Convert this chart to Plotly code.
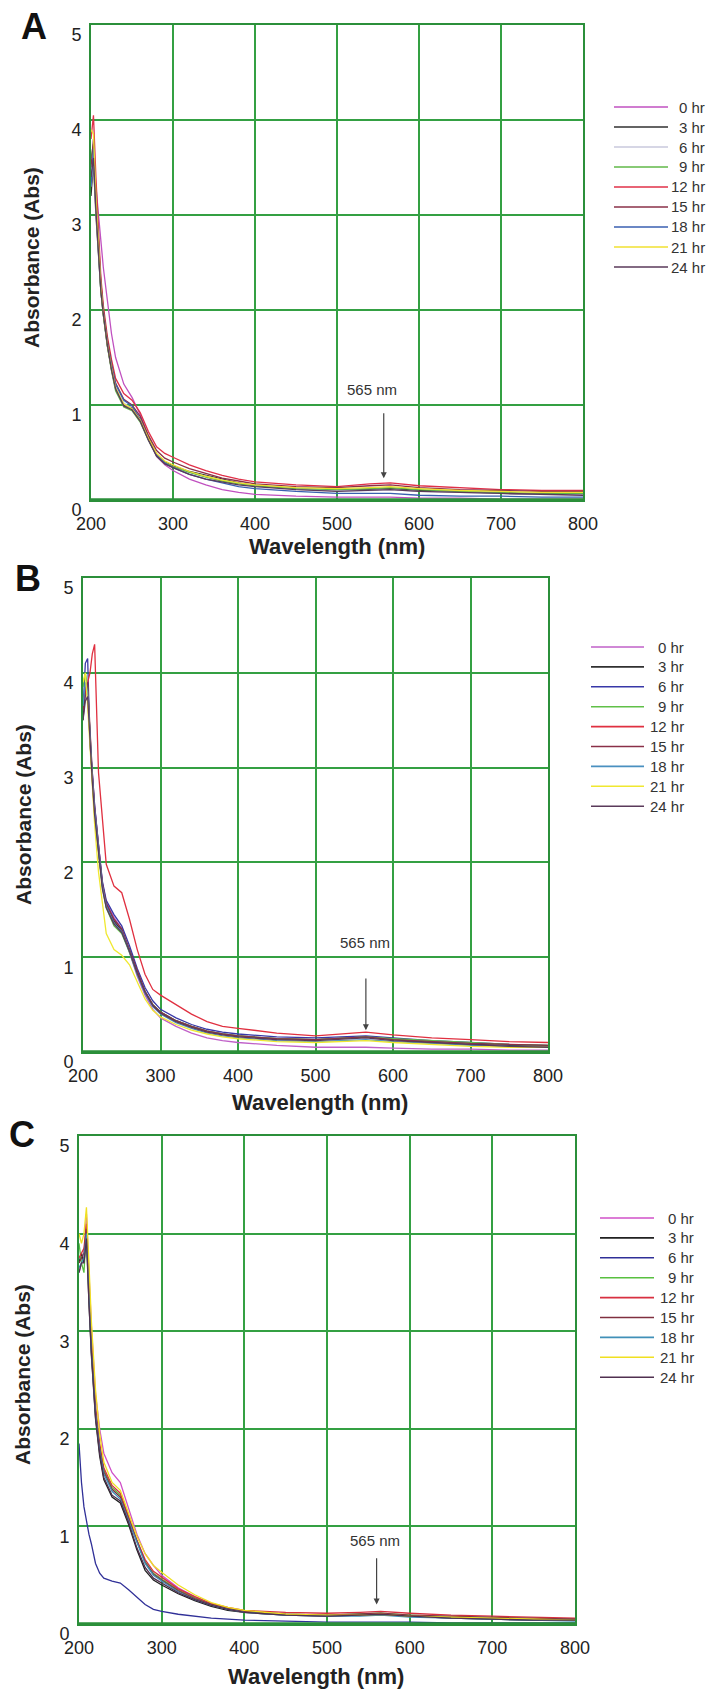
import plotly.graph_objects as go

# ---------------- data ----------------
wavelength = [200, 203, 206, 209, 212, 215, 220, 225, 230, 240, 250, 260, 270, 280, 290,
              300, 320, 340, 360, 380, 400, 450, 500, 540, 565, 600, 650, 700, 750, 800]

series_names = ["0 hr", "3 hr", "6 hr", "9 hr", "12 hr", "15 hr", "18 hr", "21 hr", "24 hr"]

a_0hr = [3.40, 3.50, 3.30, 3.00, 2.70, 2.45, 2.10, 1.75, 1.50, 1.22, 1.08, 0.90, 0.66, 0.46, 0.37, 0.31, 0.22, 0.16, 0.11, 0.08, 0.06, 0.04, 0.03, 0.03, 0.03, 0.02, 0.02, 0.01, 0.01, 0.01]
a_3hr = [3.20, 3.55, 3.00, 2.55, 2.20, 1.95, 1.62, 1.38, 1.18, 1.00, 0.97, 0.85, 0.66, 0.48, 0.40, 0.36, 0.30, 0.26, 0.22, 0.18, 0.15, 0.12, 0.10, 0.11, 0.12, 0.10, 0.09, 0.07, 0.06, 0.06]
a_6hr = [3.30, 3.60, 3.05, 2.60, 2.25, 2.00, 1.66, 1.40, 1.20, 1.02, 0.96, 0.83, 0.64, 0.47, 0.39, 0.35, 0.29, 0.25, 0.21, 0.17, 0.15, 0.12, 0.10, 0.10, 0.11, 0.09, 0.08, 0.07, 0.06, 0.06]
a_9hr = [3.60, 3.75, 3.10, 2.60, 2.20, 1.95, 1.62, 1.36, 1.15, 0.98, 0.94, 0.82, 0.63, 0.47, 0.39, 0.35, 0.29, 0.24, 0.20, 0.17, 0.15, 0.12, 0.11, 0.12, 0.13, 0.11, 0.09, 0.08, 0.07, 0.07]
a_12hr = [3.80, 4.05, 3.40, 2.80, 2.35, 2.05, 1.72, 1.48, 1.28, 1.12, 1.05, 0.92, 0.72, 0.56, 0.49, 0.45, 0.37, 0.31, 0.26, 0.22, 0.19, 0.16, 0.14, 0.17, 0.18, 0.15, 0.13, 0.11, 0.10, 0.10]
a_15hr = [3.50, 3.80, 3.20, 2.70, 2.30, 2.00, 1.68, 1.43, 1.23, 1.06, 1.00, 0.88, 0.68, 0.52, 0.44, 0.40, 0.33, 0.28, 0.23, 0.20, 0.17, 0.14, 0.13, 0.15, 0.16, 0.13, 0.11, 0.10, 0.09, 0.09]
a_18hr = [3.30, 3.70, 3.15, 2.65, 2.25, 1.98, 1.65, 1.42, 1.22, 1.05, 0.99, 0.85, 0.64, 0.47, 0.39, 0.34, 0.27, 0.22, 0.18, 0.14, 0.12, 0.09, 0.07, 0.07, 0.07, 0.05, 0.04, 0.04, 0.03, 0.03]
a_21hr = [3.90, 3.85, 3.20, 2.65, 2.25, 1.97, 1.64, 1.39, 1.18, 1.01, 0.96, 0.84, 0.65, 0.49, 0.41, 0.37, 0.30, 0.25, 0.21, 0.18, 0.16, 0.13, 0.12, 0.13, 0.14, 0.12, 0.10, 0.09, 0.08, 0.08]
a_24hr = [3.40, 3.60, 3.05, 2.60, 2.20, 1.96, 1.63, 1.37, 1.17, 0.99, 0.95, 0.83, 0.63, 0.46, 0.38, 0.34, 0.27, 0.22, 0.19, 0.16, 0.14, 0.11, 0.09, 0.10, 0.11, 0.09, 0.08, 0.07, 0.06, 0.05]

b_0hr = [3.55, 3.75, 3.80, 3.35, 2.95, 2.60, 2.15, 1.78, 1.58, 1.42, 1.30, 1.05, 0.80, 0.60, 0.45, 0.36, 0.27, 0.20, 0.15, 0.12, 0.10, 0.07, 0.05, 0.05, 0.05, 0.04, 0.03, 0.03, 0.02, 0.02]
b_3hr = [3.50, 3.80, 3.90, 3.30, 2.90, 2.55, 2.12, 1.76, 1.56, 1.38, 1.28, 1.08, 0.84, 0.64, 0.50, 0.42, 0.33, 0.27, 0.22, 0.19, 0.17, 0.14, 0.13, 0.15, 0.16, 0.13, 0.10, 0.08, 0.07, 0.06]
b_6hr = [3.60, 4.10, 4.15, 3.25, 2.95, 2.60, 2.18, 1.80, 1.60, 1.45, 1.33, 1.12, 0.88, 0.68, 0.54, 0.45, 0.36, 0.29, 0.24, 0.21, 0.19, 0.16, 0.15, 0.16, 0.17, 0.15, 0.12, 0.10, 0.08, 0.07]
b_9hr = [3.85, 4.00, 3.85, 3.30, 2.88, 2.52, 2.10, 1.74, 1.52, 1.33, 1.25, 1.05, 0.82, 0.63, 0.50, 0.42, 0.33, 0.27, 0.22, 0.19, 0.17, 0.14, 0.13, 0.15, 0.16, 0.14, 0.12, 0.10, 0.08, 0.07]
b_12hr = [3.70, 3.80, 3.90, 4.00, 4.20, 4.30, 2.95, 2.45, 1.98, 1.75, 1.68, 1.40, 1.08, 0.82, 0.66, 0.60, 0.50, 0.40, 0.32, 0.27, 0.25, 0.20, 0.17, 0.19, 0.21, 0.18, 0.15, 0.13, 0.11, 0.10]
b_15hr = [3.60, 3.85, 3.90, 3.35, 2.93, 2.58, 2.15, 1.78, 1.57, 1.40, 1.30, 1.08, 0.84, 0.64, 0.50, 0.42, 0.33, 0.27, 0.22, 0.19, 0.17, 0.14, 0.13, 0.15, 0.16, 0.13, 0.11, 0.09, 0.08, 0.07]
b_18hr = [3.65, 3.90, 3.80, 3.30, 2.90, 2.55, 2.12, 1.75, 1.54, 1.36, 1.27, 1.06, 0.82, 0.62, 0.48, 0.40, 0.31, 0.25, 0.20, 0.17, 0.15, 0.12, 0.11, 0.12, 0.13, 0.11, 0.09, 0.07, 0.06, 0.05]
b_21hr = [3.90, 4.00, 3.65, 3.20, 2.75, 2.40, 1.90, 1.55, 1.25, 1.08, 1.02, 0.92, 0.74, 0.56, 0.44, 0.37, 0.29, 0.23, 0.19, 0.16, 0.14, 0.11, 0.10, 0.11, 0.12, 0.10, 0.08, 0.06, 0.05, 0.05]
b_24hr = [3.50, 3.70, 3.75, 3.25, 2.85, 2.50, 2.08, 1.72, 1.52, 1.35, 1.26, 1.06, 0.83, 0.63, 0.49, 0.41, 0.32, 0.26, 0.21, 0.18, 0.16, 0.13, 0.12, 0.14, 0.15, 0.12, 0.10, 0.08, 0.06, 0.05]

c_0hr = [3.60, 3.70, 3.75, 4.20, 3.60, 3.05, 2.35, 2.00, 1.75, 1.55, 1.45, 1.18, 0.92, 0.72, 0.60, 0.50, 0.37, 0.28, 0.21, 0.16, 0.13, 0.10, 0.08, 0.09, 0.10, 0.08, 0.07, 0.06, 0.05, 0.05]
c_3hr = [3.70, 3.80, 3.70, 4.00, 3.30, 2.75, 2.10, 1.72, 1.48, 1.30, 1.24, 1.02, 0.76, 0.55, 0.45, 0.40, 0.31, 0.24, 0.18, 0.14, 0.12, 0.09, 0.08, 0.09, 0.10, 0.08, 0.06, 0.05, 0.04, 0.04]
c_6hr = [1.85, 1.45, 1.20, 1.05, 0.92, 0.82, 0.62, 0.52, 0.47, 0.44, 0.42, 0.35, 0.27, 0.20, 0.15, 0.13, 0.10, 0.08, 0.06, 0.05, 0.04, 0.03, 0.02, 0.02, 0.02, 0.02, 0.01, 0.01, 0.01, 0.01]
c_9hr = [3.90, 3.70, 3.60, 4.05, 3.40, 2.85, 2.20, 1.82, 1.58, 1.40, 1.32, 1.10, 0.85, 0.64, 0.52, 0.46, 0.35, 0.27, 0.20, 0.16, 0.13, 0.10, 0.09, 0.10, 0.11, 0.09, 0.07, 0.06, 0.05, 0.05]
c_12hr = [3.75, 3.80, 3.85, 4.10, 3.45, 2.90, 2.22, 1.85, 1.60, 1.42, 1.34, 1.10, 0.86, 0.66, 0.54, 0.48, 0.36, 0.28, 0.21, 0.17, 0.14, 0.12, 0.11, 0.12, 0.13, 0.11, 0.09, 0.08, 0.07, 0.06]
c_15hr = [3.70, 3.75, 3.80, 4.05, 3.40, 2.85, 2.18, 1.80, 1.56, 1.38, 1.30, 1.08, 0.84, 0.63, 0.51, 0.45, 0.34, 0.26, 0.20, 0.16, 0.13, 0.10, 0.09, 0.10, 0.11, 0.09, 0.08, 0.07, 0.06, 0.05]
c_18hr = [3.65, 3.70, 3.75, 4.00, 3.35, 2.80, 2.15, 1.78, 1.54, 1.36, 1.28, 1.06, 0.82, 0.62, 0.50, 0.44, 0.33, 0.25, 0.19, 0.15, 0.12, 0.09, 0.08, 0.08, 0.09, 0.07, 0.06, 0.05, 0.04, 0.03]
c_21hr = [4.00, 3.90, 4.00, 4.27, 3.70, 3.10, 2.40, 1.95, 1.66, 1.45, 1.37, 1.14, 0.90, 0.72, 0.60, 0.53, 0.40, 0.30, 0.22, 0.17, 0.14, 0.10, 0.09, 0.09, 0.10, 0.08, 0.07, 0.06, 0.05, 0.04]
c_24hr = [3.60, 3.70, 3.70, 3.95, 3.30, 2.78, 2.12, 1.75, 1.50, 1.32, 1.26, 1.04, 0.78, 0.58, 0.47, 0.42, 0.32, 0.25, 0.19, 0.15, 0.12, 0.09, 0.08, 0.09, 0.10, 0.08, 0.06, 0.05, 0.04, 0.04]

x_ticks = [200, 300, 400, 500, 600, 700, 800]
y_ticks = [0, 1, 2, 3, 4, 5]
panel_labels = ["A", "B", "C"]
peak_label = "565 nm"
x_title = "Wavelength (nm)"
y_title = "Absorbance (Abs)"

# ---------------- style ----------------
W, H = 719, 1697
FONT = "Liberation Sans, Arial, Helvetica, sans-serif"
GRID = "#34a043"
FRAME = "#2b8f3a"

colors_a = ["#c050c0", "#303030", "#c8c8dc", "#60b848", "#e03048", "#8a3048", "#3a5fb0", "#f0e030", "#5a3a5a"]
colors_b = ["#c060c8", "#303030", "#3838a8", "#60c048", "#e03040", "#8a3048", "#4a90c0", "#f0e830", "#5a3a5a"]
colors_c = ["#d050c8", "#202020", "#303098", "#58c040", "#d83040", "#803040", "#4090b8", "#f0e020", "#503050"]

panels = [
    dict(data=[a_0hr, a_3hr, a_6hr, a_9hr, a_12hr, a_15hr, a_18hr, a_21hr, a_24hr], colors=colors_a,
         box=(91, 583, 25, 500), letter=(34, 27), ytitle=(32, 258), xtitle=(337, 547),
         note=(543, 1.16), arrow=(557, 0.93, 0.23),
         legend=dict(x0=614, x1=668, xt=707, y0=107, dy=20)),
    dict(data=[b_0hr, b_3hr, b_6hr, b_9hr, b_12hr, b_15hr, b_18hr, b_21hr, b_24hr], colors=colors_b,
         box=(83, 548, 578, 1052), letter=(28, 579), ytitle=(24, 815), xtitle=(320, 1102),
         note=(564, 1.15), arrow=(565, 0.79, 0.23),
         legend=dict(x0=591, x1=644, xt=686, y0=647, dy=19.9)),
    dict(data=[c_0hr, c_3hr, c_6hr, c_9hr, c_12hr, c_15hr, c_18hr, c_21hr, c_24hr], colors=colors_c,
         box=(79, 575, 1136, 1624), letter=(22, 1134), ytitle=(22, 1375), xtitle=(316, 1676),
         note=(558, 0.86), arrow=(560, 0.69, 0.2),
         legend=dict(x0=600, x1=654, xt=696, y0=1218, dy=19.9)),
]


def px(x):
    return x / W


def py(y):
    return 1 - y / H


fig = go.Figure()
annotations = []
shapes = []
layout = {}

for i, p in enumerate(panels):
    n = "" if i == 0 else str(i + 1)
    xa, ya = "x" + n, "y" + n
    left, right, top, bottom = p["box"]
    for name, vals, col in zip(series_names, p["data"], p["colors"]):
        fig.add_trace(go.Scatter(x=wavelength, y=vals, mode="lines", name=name,
                                 line=dict(color=col, width=1.3), xaxis=xa, yaxis=ya,
                                 showlegend=False))
    layout["xaxis" + n] = dict(domain=[px(left), px(right)], anchor=ya, range=[200, 800],
                               automargin=False,
                               tickvals=x_ticks, ticktext=[str(v) for v in x_ticks],
                               showgrid=True, gridcolor=GRID, gridwidth=1.6,
                               showline=True, mirror=True, linecolor=FRAME, linewidth=2,
                               zeroline=False, ticks="", ticklabelstandoff=6,
                               tickfont=dict(family=FONT, size=18, color="#222"))
    layout["yaxis" + n] = dict(domain=[py(bottom), py(top)], anchor=xa, range=[0, 5],
                               automargin=False,
                               tickvals=y_ticks, ticktext=[str(v) for v in y_ticks],
                               showgrid=True, gridcolor=GRID, gridwidth=1.6,
                               showline=True, mirror=True, linecolor=FRAME, linewidth=2,
                               zeroline=False, ticks="", ticklabelstandoff=4, ticklabelshift=10,
                               tickfont=dict(family=FONT, size=18, color="#222"))
    shapes.append(dict(type="line", xref="paper", yref="paper", x0=px(left), x1=px(right),
                       y0=py(bottom), y1=py(bottom), line=dict(color=FRAME, width=3.5), layer="above"))
    annotations.append(dict(text="<b>%s</b>" % panel_labels[i], xref="paper", yref="paper",
                            x=px(p["letter"][0]), y=py(p["letter"][1]), xanchor="center", yanchor="middle",
                            showarrow=False, font=dict(family=FONT, size=36, color="#111")))
    annotations.append(dict(text="<b>%s</b>" % y_title, xref="paper", yref="paper",
                            x=px(p["ytitle"][0]), y=py(p["ytitle"][1]), textangle=-90,
                            xanchor="center", yanchor="middle", showarrow=False,
                            font=dict(family=FONT, size=21, color="#222")))
    annotations.append(dict(text="<b>%s</b>" % x_title, xref="paper", yref="paper",
                            x=px(p["xtitle"][0]), y=py(p["xtitle"][1]),
                            xanchor="center", yanchor="middle", showarrow=False,
                            font=dict(family=FONT, size=22, color="#222")))
    annotations.append(dict(text=peak_label, xref=xa, yref=ya, x=p["note"][0], y=p["note"][1],
                            xanchor="center", yanchor="middle", showarrow=False,
                            font=dict(family=FONT, size=15, color="#333")))
    ax_x, ax_tail, ax_head = p["arrow"]
    annotations.append(dict(text="", xref=xa, yref=ya, x=ax_x, y=ax_head, ax=ax_x, ay=ax_tail,
                            axref=xa, ayref=ya, showarrow=True, arrowhead=2, arrowsize=1,
                            arrowwidth=1.2, arrowcolor="#444"))
    lg = p["legend"]
    for k, (name, col) in enumerate(zip(series_names, p["colors"])):
        yy = lg["y0"] + k * lg["dy"]
        shapes.append(dict(type="line", xref="paper", yref="paper", x0=px(lg["x0"]), x1=px(lg["x1"]),
                           y0=py(yy), y1=py(yy), line=dict(color=col, width=1.6)))
        annotations.append(dict(text=name, xref="paper", yref="paper", x=px(lg["xt"]), y=py(yy),
                                xanchor="right", yanchor="middle", showarrow=False,
                                font=dict(family=FONT, size=15, color="#333")))

fig.update_layout(width=W, height=H, margin=dict(l=0, r=0, t=0, b=0, autoexpand=False),
                  paper_bgcolor="white", plot_bgcolor="white", showlegend=False,
                  annotations=annotations, shapes=shapes, **layout)
fig.write_html("out.html", config={"displayModeBar": False},
               post_script="document.body.style.margin='0';document.body.style.padding='0';")
